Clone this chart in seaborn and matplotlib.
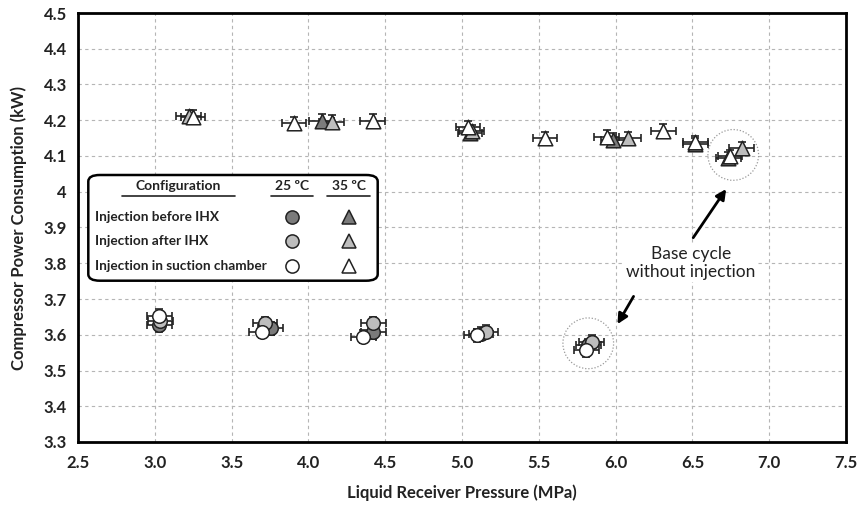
import numpy as np
import pandas as pd
import matplotlib
matplotlib.use("Agg")
import matplotlib.pyplot as plt
import seaborn as sns
from matplotlib.patches import Ellipse, FancyBboxPatch
from matplotlib.ticker import FuncFormatter, MultipleLocator

# ---------------- data ----------------
# 25 ºC (circles)
before25_x = [3.03, 3.754, 4.423, 5.125, 5.822]
before25_y = [3.627, 3.618, 3.607, 3.603, 3.571]
after25_x = [3.036, 3.717, 4.423, 5.156, 5.844]
after25_y = [3.639, 3.632, 3.632, 3.609, 3.581]
suction25_x = [3.03, 3.696, 4.358, 5.095, 5.81]
suction25_y = [3.653, 3.609, 3.595, 3.598, 3.556]
# 35 ºC (triangles)
before35_x = [4.086, 5.052, 5.986, 6.52, 6.734]
before35_y = [4.199, 4.163, 4.145, 4.133, 4.094]
after35_x = [3.22, 4.152, 5.062, 6.083, 6.82]
after35_y = [4.212, 4.196, 4.170, 4.149, 4.121]
suction35_x = [3.25, 3.906, 4.418, 5.04, 5.54, 5.942, 6.311, 6.52, 6.745]
suction35_y = [4.210, 4.191, 4.199, 4.180, 4.149, 4.154, 4.171, 4.138, 4.100]

xerr_val = 0.08
yerr_val = 0.018

configs = ["Injection before IHX", "Injection after IHX", "Injection in suction chamber"]
fills = ["#7b7b7b", "#bdbdbd", "#ffffff"]

series = [
    (before25_x, before25_y, configs[0], "25 ºC"),
    (after25_x, after25_y, configs[1], "25 ºC"),
    (suction25_x, suction25_y, configs[2], "25 ºC"),
    (before35_x, before35_y, configs[0], "35 ºC"),
    (after35_x, after35_y, configs[1], "35 ºC"),
    (suction35_x, suction35_y, configs[2], "35 ºC"),
]

sns.set_style("white")
plt.rcParams['font.family'] = ['Lato', 'DejaVu Sans']

fig = plt.figure(figsize=(8.58, 5.13), dpi=100)
L, R, B, T = 78 / 858, 846 / 858, (513 - 442) / 513, (513 - 13) / 513
ax = fig.add_axes([L, B, R - L, T - B])

edge = "#222222"
for xs, ys, conf, temp in series:
    df = pd.DataFrame({"x": xs, "y": ys})
    ax.errorbar(df["x"], df["y"], xerr=xerr_val, yerr=yerr_val, fmt="none",
                ecolor=edge, elinewidth=1.2, capsize=3, capthick=1.2, zorder=3)
    marker = "o" if temp == "25 ºC" else "^"
    sns.scatterplot(data=df, x="x", y="y", ax=ax, marker=marker,
                    s=95 if marker == "o" else 110,
                    color=fills[configs.index(conf)], edgecolor=edge,
                    linewidth=1.1, zorder=4, legend=False)

ax.set_xlim(2.5, 7.5)
ax.set_ylim(3.3, 4.5)
ax.xaxis.set_major_locator(MultipleLocator(0.5))
ax.yaxis.set_major_locator(MultipleLocator(0.1))
ax.xaxis.set_major_formatter(FuncFormatter(lambda v, p: f"{v:.1f}"))
ax.yaxis.set_major_formatter(FuncFormatter(lambda v, p: f"{round(v, 1):g}"))
ax.grid(True, color="#b5b5b5", linestyle=(0, (3, 3)), linewidth=0.8)
ax.set_axisbelow(True)
for s in ax.spines.values():
    s.set_color("black")
    s.set_linewidth(2)
ax.tick_params(axis="y", length=4, width=1, color="#888888", pad=4)
ax.tick_params(axis="x", length=0, pad=9)
for lab in ax.get_xticklabels() + ax.get_yticklabels():
    lab.set_fontweight("bold")
    lab.set_fontsize(12)
    lab.set_color("#222222")
ax.set_xlabel("Liquid Receiver Pressure (MPa)", fontsize=12, fontweight="bold",
              color="#222222", labelpad=10)
ax.set_ylabel("Compressor Power Consumption (kW)", fontsize=12, fontweight="bold",
              color="#222222")
ax.yaxis.set_label_coords(-0.066, 0.5)

# dotted circles around base cycle
ax.add_patch(Ellipse((6.766, 4.103), 0.33, 0.142, fill=False, edgecolor="#999999",
                     linestyle=(0, (1, 1.5)), linewidth=0.9, zorder=2))
ax.add_patch(Ellipse((5.822, 3.576), 0.33, 0.142, fill=False, edgecolor="#999999",
                     linestyle=(0, (1, 1.5)), linewidth=0.9, zorder=2))

# annotation
ax.text(6.49, 3.80, "Base cycle\nwithout injection", ha="center", va="center",
        fontsize=12.5, color="#222222", linespacing=1.15, zorder=5,
        bbox=dict(facecolor="white", edgecolor="none", pad=1))
arrow_kw = dict(arrowstyle="-|>,head_width=0.3,head_length=0.6", color="black", lw=2)
ax.annotate("", xy=(6.73, 4.014), xytext=(6.495, 3.865), arrowprops=arrow_kw, zorder=5)
ax.annotate("", xy=(6.003, 3.623), xytext=(6.126, 3.714), arrowprops=arrow_kw, zorder=5)

# custom legend box (pixel positions -> axes fraction)
def px(xp, yp):
    return ((xp - 78) / 768, (442 - yp) / 429)

x0, y0 = px(88.3, 280.7)
x1, y1 = px(377.7, 175)
box = FancyBboxPatch((x0, y0), x1 - x0, y1 - y0, boxstyle="round,pad=0,rounding_size=0.015",
                     transform=ax.transAxes, facecolor="white", edgecolor="black",
                     linewidth=1.8, zorder=6)
ax.add_patch(box)

hdr_kw = dict(transform=ax.transAxes, fontsize=10, fontweight="bold", color="#222222",
              ha="center", va="center", zorder=7)
ax.text(*px(178, 186), "Configuration", **hdr_kw)
ax.text(*px(292.3, 186), "25 ºC", **hdr_kw)
ax.text(*px(349.3, 186), "35 ºC", **hdr_kw)
for xa, xb in [(121.7, 235), (270.7, 313.3), (327.3, 370)]:
    pa, pb = px(xa, 195.5), px(xb, 195.5)
    ax.plot([pa[0], pb[0]], [pa[1], pb[1]], transform=ax.transAxes, color="#222222",
            lw=1.2, zorder=7)
rows_y = [216.7, 241, 266]
for conf, ry, fc in zip(configs, rows_y, fills):
    ax.text(*px(95, ry), conf, transform=ax.transAxes, fontsize=9.8, fontweight="bold",
            color="#222222", ha="left", va="center", zorder=7)
    cx, cy = px(292.3, ry)
    ax.plot([cx], [cy], marker="o", markersize=9.5, markerfacecolor=fc,
            markeredgecolor=edge, markeredgewidth=1.1, transform=ax.transAxes, zorder=7)
    tx, ty = px(349.3, ry)
    ax.plot([tx], [ty], marker="^", markersize=10, markerfacecolor=fc,
            markeredgecolor=edge, markeredgewidth=1.1, transform=ax.transAxes, zorder=7)

fig.savefig("out.png", dpi=100)
